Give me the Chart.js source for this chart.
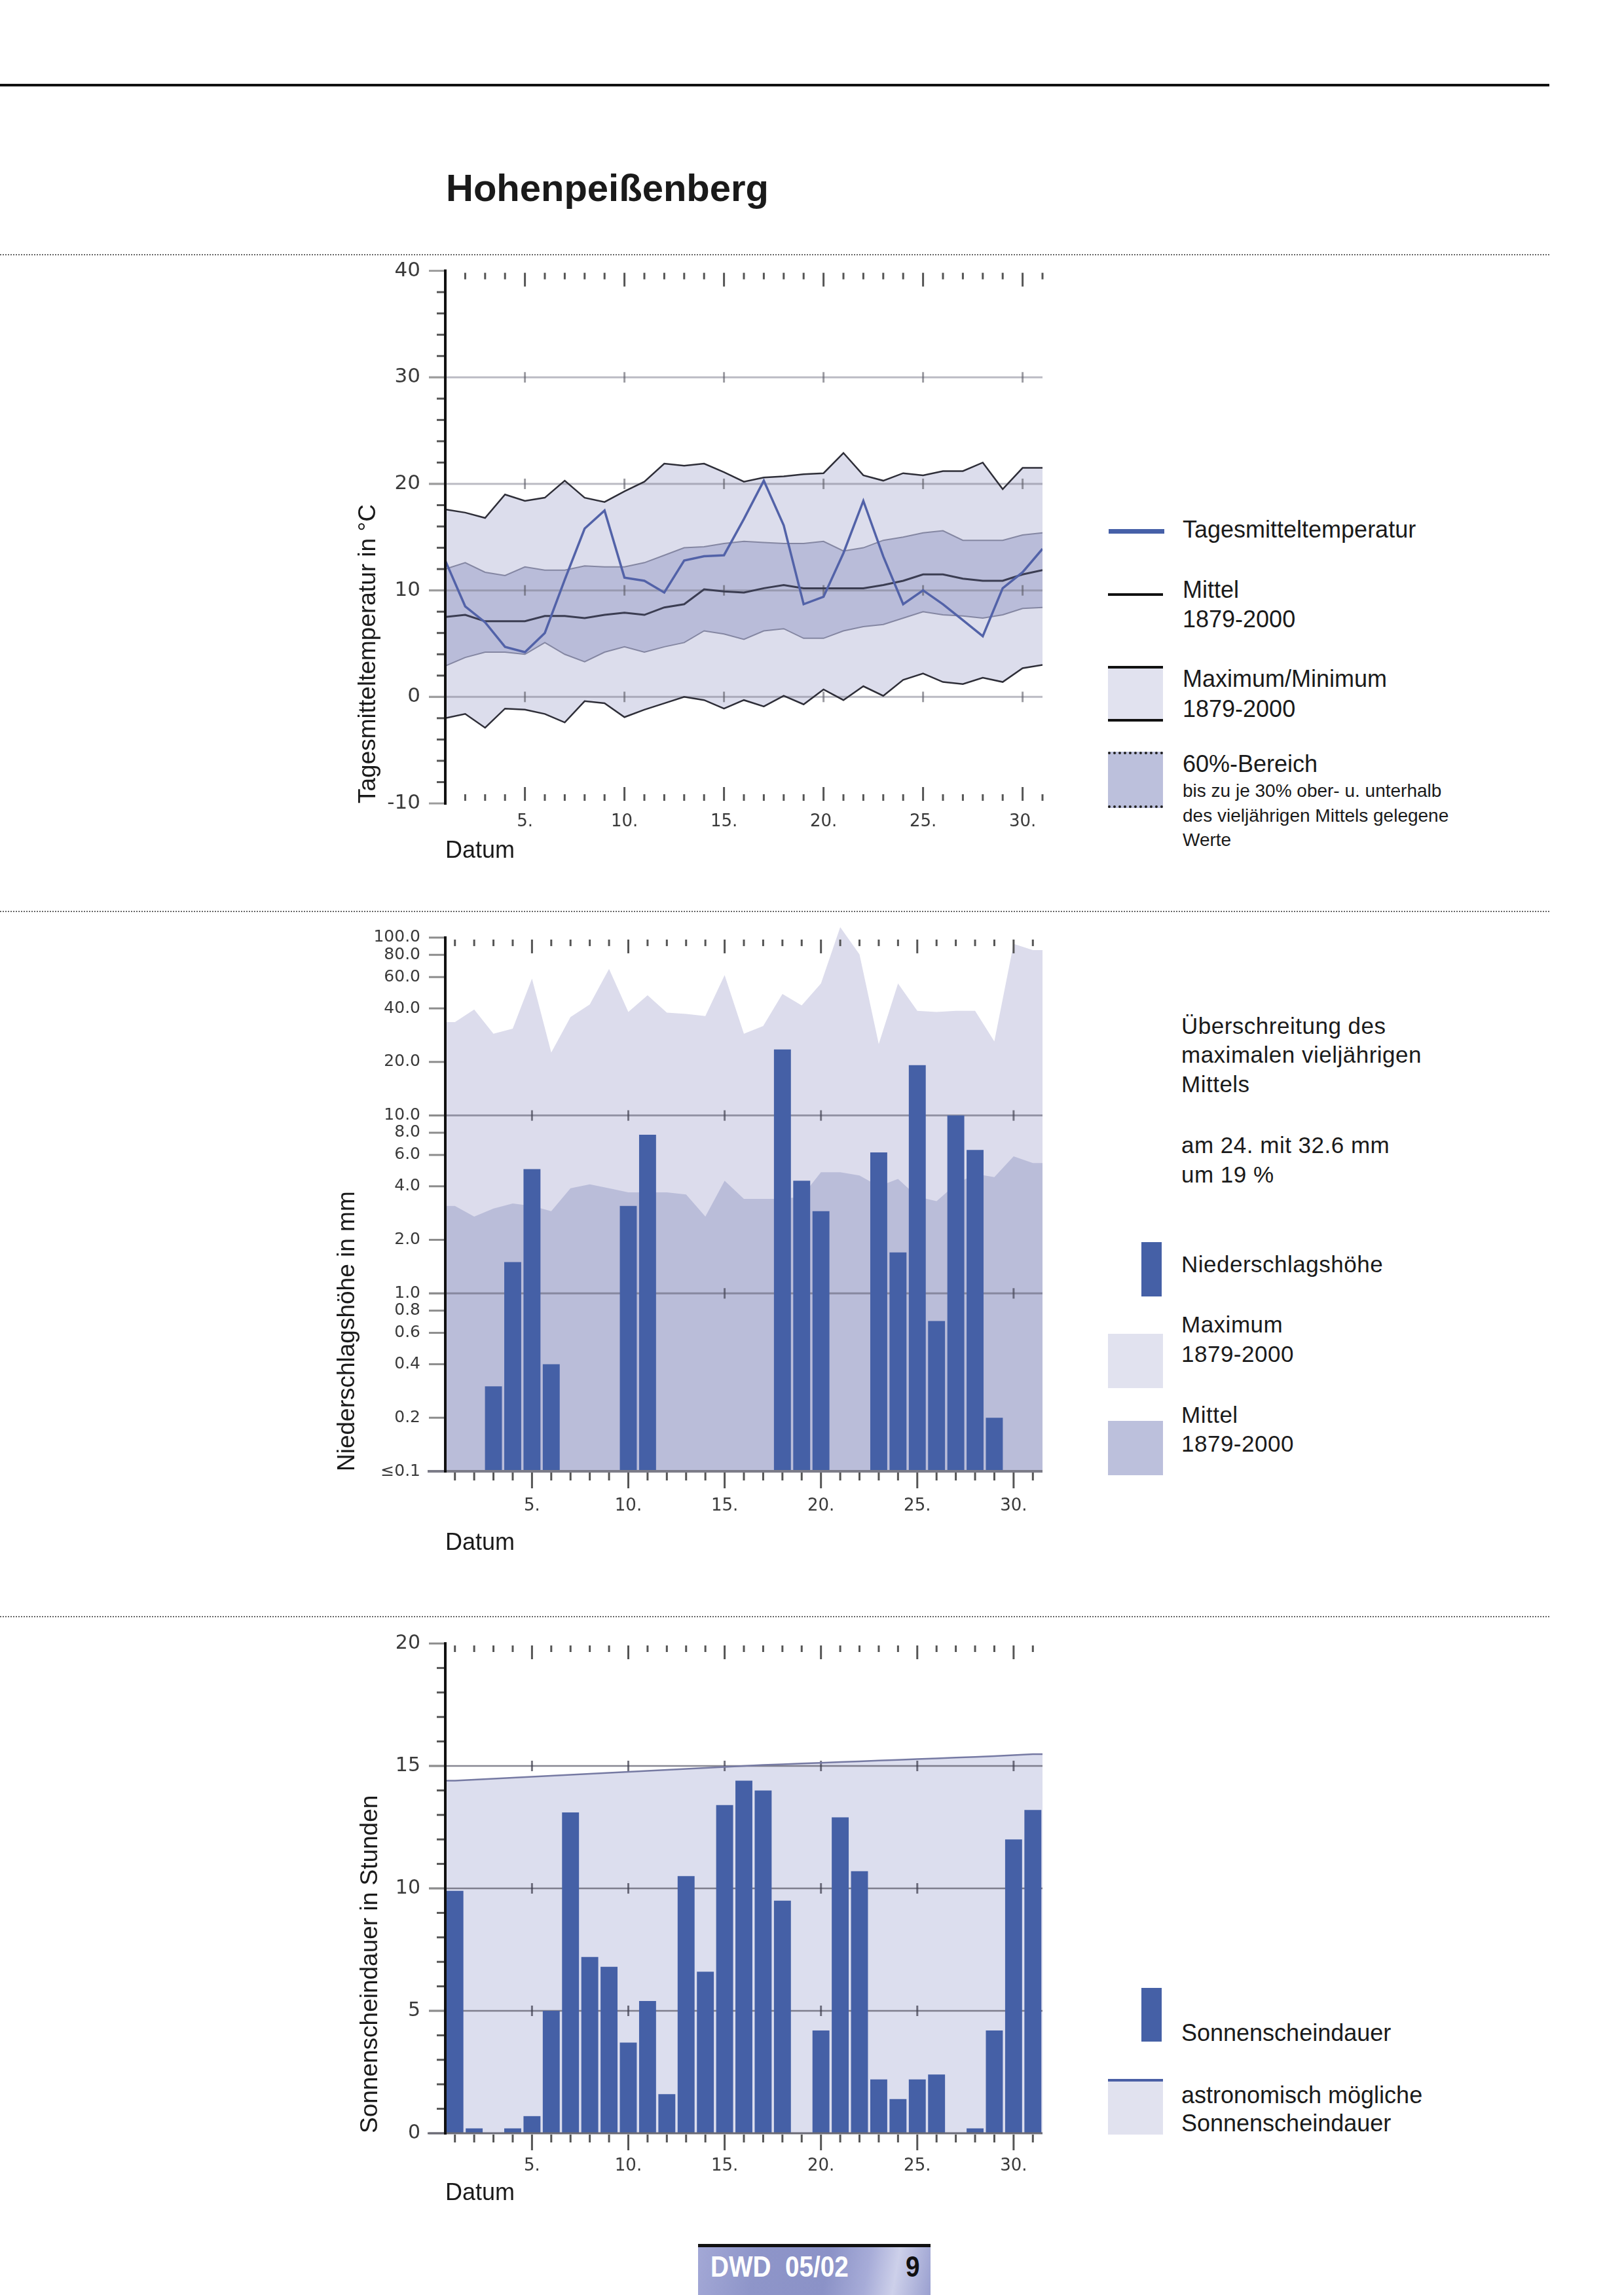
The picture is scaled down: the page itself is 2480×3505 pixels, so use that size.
<!DOCTYPE html>
<html lang="de">
<head>
<meta charset="utf-8">
<title>Hohenpeißenberg</title>
<script src="https://cdn.jsdelivr.net/npm/chart.js@4.4.1/dist/chart.umd.min.js"></script>
<style>
  html, body { margin: 0; padding: 0; background: #fff; }
  #page { position: relative; width: 2480px; height: 3505px; overflow: hidden;
          font-family: "Liberation Sans", Arial, sans-serif; color: #1a1a1a; }
  .t { position: absolute; white-space: nowrap; line-height: 1; font-size: 36px; }
  .sm { font-size: 28px; }
  .sep { position: absolute; left: 0; width: 2366px; height: 0; border-top: 2px dotted #666; }
  .b { position: absolute; }
  canvas { position: absolute; left: 0; }
</style>
</head>
<body>
<div id="page">
  <div class="b" style="left:0;top:128px;width:2366px;height:4px;background:#111"></div>
  <div class="t" style="left:681px;top:258px;font-size:58px;font-weight:bold">Hohenpeißenberg</div>
  <div class="sep" style="top:388px"></div>
  <div class="sep" style="top:1391px"></div>
  <div class="sep" style="top:2468px"></div>

  <canvas id="temp" width="1640" height="960" style="top:395px"></canvas>
  <canvas id="rain" width="1640" height="1000" style="top:1390px"></canvas>
  <canvas id="sun" width="1640" height="960" style="top:2480px"></canvas>

  <!-- Legende Temperatur -->
  <div class="b" style="left:1693px;top:808px;width:85px;height:7px;background:#4660a8"></div>
  <div class="t" style="left:1806px;top:791px">Tagesmitteltemperatur</div>
  <div class="b" style="left:1692px;top:906px;width:84px;height:4px;background:#111"></div>
  <div class="t" style="left:1806px;top:883px">Mittel</div>
  <div class="t" style="left:1806px;top:928px">1879-2000</div>
  <div class="b" style="left:1692px;top:1017px;width:84px;height:85px;background:#e1e2ef;border-top:4px solid #111;border-bottom:4px solid #111;box-sizing:border-box"></div>
  <div class="t" style="left:1806px;top:1019px">Maximum/Minimum</div>
  <div class="t" style="left:1806px;top:1065px">1879-2000</div>
  <div class="b" style="left:1692px;top:1148px;width:84px;height:86px;background:#bcc0dc;border-top:4px dotted #222;border-bottom:4px dotted #222;box-sizing:border-box"></div>
  <div class="t" style="left:1806px;top:1149px">60%-Bereich</div>
  <div class="t sm" style="left:1806px;top:1194px">bis zu je 30% ober- u. unterhalb</div>
  <div class="t sm" style="left:1806px;top:1232px">des vieljährigen Mittels gelegene</div>
  <div class="t sm" style="left:1806px;top:1269px">Werte</div>

  <!-- Legende Niederschlag -->
  <div class="t" style="left:1804px;top:1549px;font-size:35px;letter-spacing:0.5px">Überschreitung des</div>
  <div class="t" style="left:1804px;top:1593px;font-size:35px;letter-spacing:0.5px">maximalen vieljährigen</div>
  <div class="t" style="left:1804px;top:1638px;font-size:35px;letter-spacing:0.5px">Mittels</div>
  <div class="t" style="left:1804px;top:1731px;font-size:35px;letter-spacing:0.5px">am 24. mit 32.6 mm</div>
  <div class="t" style="left:1804px;top:1776px;font-size:35px;letter-spacing:0.5px">um 19 %</div>
  <div class="b" style="left:1743px;top:1897px;width:31px;height:83px;background:#4560a6"></div>
  <div class="t" style="left:1804px;top:1913px;font-size:35px;letter-spacing:0.5px">Niederschlagshöhe</div>
  <div class="b" style="left:1692px;top:2037px;width:84px;height:83px;background:#e1e2ef"></div>
  <div class="t" style="left:1804px;top:2005px;font-size:35px;letter-spacing:0.5px">Maximum</div>
  <div class="t" style="left:1804px;top:2050px;font-size:35px;letter-spacing:0.5px">1879-2000</div>
  <div class="b" style="left:1692px;top:2170px;width:84px;height:83px;background:#bcc0dc"></div>
  <div class="t" style="left:1804px;top:2143px;font-size:35px;letter-spacing:0.5px">Mittel</div>
  <div class="t" style="left:1804px;top:2187px;font-size:35px;letter-spacing:0.5px">1879-2000</div>

  <!-- Legende Sonnenschein -->
  <div class="b" style="left:1743px;top:3036px;width:31px;height:82px;background:#4560a6"></div>
  <div class="t" style="left:1804px;top:3087px">Sonnenscheindauer</div>
  <div class="b" style="left:1692px;top:3175px;width:84px;height:85px;background:#e1e2ef;border-top:4px solid #4a5fa5;box-sizing:border-box"></div>
  <div class="t" style="left:1804px;top:3182px">astronomisch mögliche</div>
  <div class="t" style="left:1804px;top:3225px">Sonnenscheindauer</div>

  <!-- Fußzeile -->
  <div class="b" style="left:1066px;top:3427px;width:355px;height:5px;background:#111"></div>
  <div class="b" style="left:1066px;top:3432px;width:355px;height:73px;background:linear-gradient(100deg,#a3a8d6 0%,#8e95c9 25%,#8b92c7 55%,#a7acd8 72%,#cdd0ea 84%,#9aa0d0 100%)"></div>
  <div class="t" style="left:1085px;top:3440px;font-size:44px;font-weight:bold;color:#fff;transform:scaleX(0.88);transform-origin:left">DWD&nbsp;&nbsp;05/02</div>
  <div class="t" style="left:1383px;top:3440px;font-size:44px;font-weight:bold;color:#111;transform:scaleX(0.88);transform-origin:left">9</div>
</div>

<script>
// Tage im Monat (Mai 2002)
const days = [1, 2, 3, 4, 5, 6, 7, 8, 9, 10, 11, 12, 13, 14, 15, 16, 17, 18, 19, 20, 21, 22, 23, 24, 25, 26, 27, 28, 29, 30, 31];
const labelDays = [5, 10, 15, 20, 25, 30];

// Temperatur in °C
const tempDaily = [12.8, 8.5, 7.0, 4.7, 4.2, 6.0, 11.0, 15.8, 17.5, 11.2, 10.9, 9.8, 12.8, 13.2, 13.3, 16.7, 20.3, 16.1, 8.7, 9.4, 13.5, 18.4, 13.2, 8.7, 10.0, 8.7, 7.2, 5.7, 10.2, 11.7, 13.9];
const tempMean = [7.5, 7.7, 7.1, 7.1, 7.1, 7.6, 7.6, 7.4, 7.7, 7.9, 7.7, 8.4, 8.7, 10.1, 9.9, 9.8, 10.2, 10.5, 10.2, 10.2, 10.2, 10.2, 10.5, 10.9, 11.5, 11.5, 11.1, 10.9, 10.9, 11.5, 11.9];
const tempMax = [17.6, 17.3, 16.8, 19.0, 18.4, 18.7, 20.3, 18.7, 18.3, 19.3, 20.2, 21.9, 21.7, 21.9, 21.1, 20.2, 20.6, 20.7, 20.9, 21.0, 22.9, 20.8, 20.3, 21.0, 20.8, 21.2, 21.2, 22.0, 19.5, 21.5, 21.5];
const tempMin = [-2.0, -1.6, -2.9, -1.1, -1.2, -1.6, -2.4, -0.4, -0.6, -1.9, -1.2, -0.6, 0.0, -0.3, -1.1, -0.3, -0.9, 0.1, -0.7, 0.7, -0.3, 1.0, 0.1, 1.6, 2.2, 1.4, 1.2, 1.8, 1.4, 2.7, 3.0];
const temp60Hi = [12.0, 12.6, 11.7, 11.4, 12.2, 11.9, 11.9, 12.3, 12.2, 12.2, 12.6, 13.3, 14.0, 14.1, 14.4, 14.6, 14.5, 14.4, 14.4, 14.6, 13.7, 14.0, 14.7, 15.0, 15.4, 15.6, 14.7, 14.7, 14.7, 15.2, 15.4];
const temp60Lo = [2.9, 3.7, 4.2, 4.2, 4.0, 5.1, 4.0, 3.3, 4.2, 4.7, 4.2, 4.7, 5.1, 6.2, 5.9, 5.4, 6.2, 6.4, 5.5, 5.5, 6.2, 6.6, 6.8, 7.4, 8.0, 7.7, 7.6, 7.4, 7.7, 8.3, 8.4];
const tempTicks = [-10, 0, 10, 20, 30, 40];

// Niederschlag in mm (null = kein Niederschlag)
const rainDaily = [null, null, 0.3, 1.5, 5.0, 0.4, null, null, null, 3.1, 7.8, null, null, null, null, null, null, 23.5, 4.3, 2.9, null, null, 6.2, 1.7, 19.2, 0.7, 10.0, 6.4, 0.2, null, null];
const rainMax = [33.5, 39.4, 28.8, 30.8, 58.9, 22.6, 35.8, 42.1, 66.7, 38.2, 47.4, 37.9, 37.2, 36.2, 61.5, 28.8, 31.8, 48.2, 41.6, 55.2, 114.5, 80.6, 25.2, 55.2, 38.8, 38.2, 38.8, 38.8, 26.1, 92.2, 85.1];
const rainMean = [3.1, 2.7, 3.0, 3.2, 3.1, 2.9, 3.9, 4.1, 3.9, 3.7, 3.7, 3.7, 3.6, 2.7, 4.3, 3.4, 3.4, 3.4, 3.5, 4.8, 4.8, 4.6, 4.0, 4.4, 3.5, 3.3, 4.1, 4.7, 4.5, 5.9, 5.4];
const rainTicks = [0.1, 0.2, 0.4, 0.6, 0.8, 1, 2, 4, 6, 8, 10, 20, 40, 60, 80, 100];

// Sonnenscheindauer in Stunden
const sunDaily = [9.9, 0.2, 0, 0.2, 0.7, 5.0, 13.1, 7.2, 6.8, 3.7, 5.4, 1.6, 10.5, 6.6, 13.4, 14.4, 14.0, 9.5, 0, 4.2, 12.9, 10.7, 2.2, 1.4, 2.2, 2.4, 0, 0.2, 4.2, 12.0, 13.2];
const sunAstro = [14.40, 14.44, 14.48, 14.52, 14.56, 14.60, 14.64, 14.68, 14.72, 14.76, 14.80, 14.84, 14.88, 14.92, 14.96, 15.00, 15.04, 15.07, 15.10, 15.13, 15.16, 15.19, 15.22, 15.25, 15.28, 15.31, 15.34, 15.37, 15.40, 15.44, 15.48];
const sunTicks = [0, 5, 10, 15, 20];

const FONT = '"Liberation Sans", Arial, sans-serif';
const NUMFONT = '"DejaVu Sans", "Liberation Sans", sans-serif';
Chart.defaults.font.family = FONT;

function seg(ctx, x1, y1, x2, y2) {
  ctx.beginPath();
  ctx.moveTo(x1, y1);
  ctx.lineTo(x2, y2);
  ctx.stroke();
}

function dayPixel(chart, o, d) {
  const x = chart.scales.x;
  return o.catX ? x.getPixelForValue(d - 1) : x.getPixelForValue(d);
}

// Gitter, Achsenlinie und Tagesstriche wie in der Vorlage
const deco = {
  id: 'deco',
  beforeDatasetsDraw(chart, args, o) {
    const { ctx, chartArea: a } = chart;
    const y = chart.scales.y;
    ctx.save();
    ctx.strokeStyle = o.gridColor;
    ctx.lineWidth = o.gridWidth;
    o.grid.forEach(v => {
      const py = y.getPixelForValue(v);
      seg(ctx, a.left - 25, py, a.right, py);
    });
    ctx.strokeStyle = o.crossColor;
    ctx.lineWidth = 3;
    o.grid.forEach(v => {
      const py = y.getPixelForValue(v);
      labelDays.forEach(d => {
        const px = dayPixel(chart, o, d);
        seg(ctx, px, py - 8, px, py + 8);
      });
    });
    ctx.restore();
  },
  afterDraw(chart, args, o) {
    const { ctx, chartArea: a } = chart;
    const y = chart.scales.y;
    const yTop = y.getPixelForValue(o.axisTop);
    const yBot = y.getPixelForValue(o.axisBottom);
    ctx.save();
    ctx.lineCap = 'butt';

    // Striche an den beschrifteten Werten
    ctx.strokeStyle = o.labelTickColor;
    ctx.lineWidth = 3;
    o.labelTicks.forEach(v => {
      const py = y.getPixelForValue(v);
      seg(ctx, a.left - 25, py, a.left, py);
    });

    // Zwischenstriche
    if (o.minorStep) {
      ctx.strokeStyle = '#555';
      for (let v = o.axisBottom; v <= o.axisTop; v += o.minorStep) {
        if (o.labelTicks.includes(v)) continue;
        const py = y.getPixelForValue(v);
        seg(ctx, a.left - 13, py, a.left, py);
      }
    }

    // Grundlinie
    if (o.baseLine) {
      ctx.strokeStyle = o.baseColor;
      ctx.lineWidth = o.baseWidth;
      seg(ctx, a.left - 27, yBot, a.right, yBot);
    }

    // Tagesstriche oben und unten
    ctx.strokeStyle = '#555';
    ctx.lineWidth = 3;
    days.forEach(d => {
      const px = dayPixel(chart, o, d);
      const major = labelDays.includes(d);
      seg(ctx, px, yTop + 3, px, yTop + (major ? 24 : 13));
      if (o.bottomUp) {
        seg(ctx, px, yBot - (major ? 25 : 14), px, yBot - 4);
      } else {
        seg(ctx, px, yBot + 2, px, yBot + (major ? 26 : 14));
      }
    });

    // senkrechte Achse
    ctx.strokeStyle = '#111';
    ctx.lineWidth = 4;
    seg(ctx, a.left, yTop - 2, a.left, yBot + 2);
    ctx.restore();
  }
};

function pts(arr) {
  return days.map((d, i) => ({ x: d, y: arr[i] }));
}
// Flächen bis an den Rand des Diagramms weiterführen (erster/letzter Tageswert)
function edgePts(arr) {
  return [{ x: 0.5, y: arr[0] }].concat(pts(arr), [{ x: 31.5, y: arr[arr.length - 1] }]);
}

function yTitle(text) {
  return { display: true, text: text, align: 'start', color: '#1a1a1a', padding: 0, font: { family: FONT, size: 37 } };
}
function xTitle() {
  return { display: true, text: 'Datum', align: 'start', color: '#1a1a1a', padding: 0, font: { family: FONT, size: 36 } };
}
const noGrid = len => ({ display: false, drawTicks: true, tickLength: len });

const common = {
  responsive: false,
  animation: false,
  events: [],
  plugins: {
    legend: { display: false },
    tooltip: { enabled: false },
    filler: { drawTime: 'beforeDatasetsDraw' }
  }
};

// 1) Tagesmitteltemperatur
new Chart(document.getElementById('temp'), {
  type: 'line',
  data: {
    datasets: [
      { data: pts(tempDaily), borderColor: '#5262a8', borderWidth: 3.5, pointRadius: 0, fill: false },
      { data: pts(tempMean), borderColor: '#3b3d52', borderWidth: 3, pointRadius: 0, fill: false },
      { data: pts(temp60Hi), borderColor: 'rgba(120,122,150,0.85)', borderWidth: 2, pointRadius: 0, fill: '+1', backgroundColor: '#b9bcd9' },
      { data: pts(temp60Lo), borderColor: 'rgba(120,122,150,0.85)', borderWidth: 2, pointRadius: 0, fill: false },
      { data: pts(tempMax), borderColor: '#2e2e38', borderWidth: 2.5, pointRadius: 0, fill: '+1', backgroundColor: '#dcddec' },
      { data: pts(tempMin), borderColor: '#2e2e38', borderWidth: 2.5, pointRadius: 0, fill: false }
    ]
  },
  options: Object.assign({}, common, {
    layout: { padding: { left: 541, right: 48, top: 18, bottom: 33 } },
    scales: {
      x: {
        type: 'linear', min: 1, max: 31,
        afterBuildTicks: s => { s.ticks = labelDays.map(v => ({ value: v })); },
        afterFit: s => { s.height = 95; },
        grid: noGrid(13), border: { display: false },
        ticks: { padding: 0, autoSkip: false, maxRotation: 0, color: '#3a3a3a', font: { family: NUMFONT, size: 26 }, callback: v => v + '.' },
        title: xTitle()
      },
      y: {
        min: -10, max: 40,
        afterBuildTicks: s => { s.ticks = tempTicks.map(v => ({ value: v })); },
        afterFit: s => { s.width = 139; },
        grid: noGrid(38), border: { display: false },
        ticks: { padding: 0, autoSkip: false, color: '#3a3a3a', font: { family: NUMFONT, size: 31 } },
        title: yTitle('Tagesmitteltemperatur in °C')
      }
    },
    plugins: Object.assign({}, common.plugins, {
      deco: {
        catX: false, grid: [0, 10, 20, 30], gridColor: 'rgba(120,120,135,0.5)', gridWidth: 3, crossColor: 'rgba(90,90,100,0.6)',
        labelTicks: tempTicks, labelTickColor: '#9c9c9c', minorStep: 2,
        axisTop: 40, axisBottom: -10, baseLine: false, bottomUp: true
      }
    })
  }),
  plugins: [deco]
});

// 2) Niederschlagshöhe
new Chart(document.getElementById('rain'), {
  type: 'bar',
  data: {
    labels: days,
    datasets: [
      { type: 'bar', data: rainDaily, backgroundColor: '#4560a6', base: 0.1, grouped: false, barPercentage: 0.88, categoryPercentage: 1, xAxisID: 'x' },
      { type: 'line', data: edgePts(rainMean), xAxisID: 'xa', borderColor: 'rgba(0,0,0,0)', pointRadius: 0, fill: 'start', backgroundColor: '#babdd9' },
      { type: 'line', data: edgePts(rainMax), xAxisID: 'xa', borderColor: 'rgba(0,0,0,0)', pointRadius: 0, fill: 'start', backgroundColor: '#dcdcec' }
    ]
  },
  options: Object.assign({}, common, {
    layout: { padding: { left: 509, right: 48, top: 15.6, bottom: 11 } },
    scales: {
      x: {
        type: 'category', offset: true,
        afterFit: s => { s.height = 132; },
        grid: noGrid(38), border: { display: false },
        ticks: { padding: 0, autoSkip: false, maxRotation: 0, color: '#3a3a3a', font: { family: NUMFONT, size: 26 },
                 callback: (v, i) => labelDays.includes(days[i]) ? days[i] + '.' : '' },
        title: xTitle()
      },
      xa: { type: 'linear', display: false, offset: false, min: 0.5, max: 31.5 },
      y: {
        type: 'logarithmic', min: 0.1, max: 125,
        afterBuildTicks: s => { s.ticks = rainTicks.map(v => ({ value: v })); },
        afterFit: s => { s.width = 171; },
        grid: noGrid(38), border: { display: false },
        ticks: { padding: 0, autoSkip: false, color: '#3a3a3a', font: { family: NUMFONT, size: 25 },
                 callback: v => v === 0.1 ? '≤0.1' : v.toFixed(1) },
        title: yTitle('Niederschlagshöhe in mm')
      }
    },
    plugins: Object.assign({}, common.plugins, {
      deco: {
        catX: true, grid: [1, 10], gridColor: 'rgba(100,100,120,0.6)', gridWidth: 3, crossColor: 'rgba(70,70,85,0.7)',
        labelTicks: rainTicks, labelTickColor: '#8c8c8c', minorStep: 0,
        axisTop: 100, axisBottom: 0.1, baseLine: true, baseColor: '#7c7c88', baseWidth: 4, bottomUp: false
      }
    })
  }),
  plugins: [deco]
});

// 3) Sonnenscheindauer
new Chart(document.getElementById('sun'), {
  type: 'bar',
  data: {
    labels: days,
    datasets: [
      { type: 'bar', data: sunDaily, backgroundColor: '#4560a6', grouped: false, barPercentage: 0.88, categoryPercentage: 1, xAxisID: 'x' },
      { type: 'line', data: edgePts(sunAstro), xAxisID: 'xa', borderColor: '#767aa3', borderWidth: 2.5, pointRadius: 0, fill: 'start', backgroundColor: '#dcdeee' }
    ]
  },
  options: Object.assign({}, common, {
    layout: { padding: { left: 544, right: 48, top: 30, bottom: 68 } },
    scales: {
      x: {
        type: 'category', offset: true,
        afterFit: s => { s.height = 114; },
        grid: noGrid(35), border: { display: false },
        ticks: { padding: 0, autoSkip: false, maxRotation: 0, color: '#3a3a3a', font: { family: NUMFONT, size: 26 },
                 callback: (v, i) => labelDays.includes(days[i]) ? days[i] + '.' : '' },
        title: xTitle()
      },
      xa: { type: 'linear', display: false, offset: false, min: 0.5, max: 31.5 },
      y: {
        min: 0, max: 20,
        afterBuildTicks: s => { s.ticks = sunTicks.map(v => ({ value: v })); },
        afterFit: s => { s.width = 136; },
        grid: noGrid(38), border: { display: false },
        ticks: { padding: 0, autoSkip: false, color: '#3a3a3a', font: { family: NUMFONT, size: 30 } },
        title: yTitle('Sonnenscheindauer in Stunden')
      }
    },
    plugins: Object.assign({}, common.plugins, {
      deco: {
        catX: true, grid: [5, 10, 15], gridColor: 'rgba(85,85,100,0.7)', gridWidth: 2.5, crossColor: 'rgba(60,60,75,0.7)',
        labelTicks: sunTicks, labelTickColor: '#8c8c8c', minorStep: 1,
        axisTop: 20, axisBottom: 0, baseLine: true, baseColor: '#6a6a75', baseWidth: 3, bottomUp: false
      }
    })
  }),
  plugins: [deco]
});
</script>
</body>
</html>
